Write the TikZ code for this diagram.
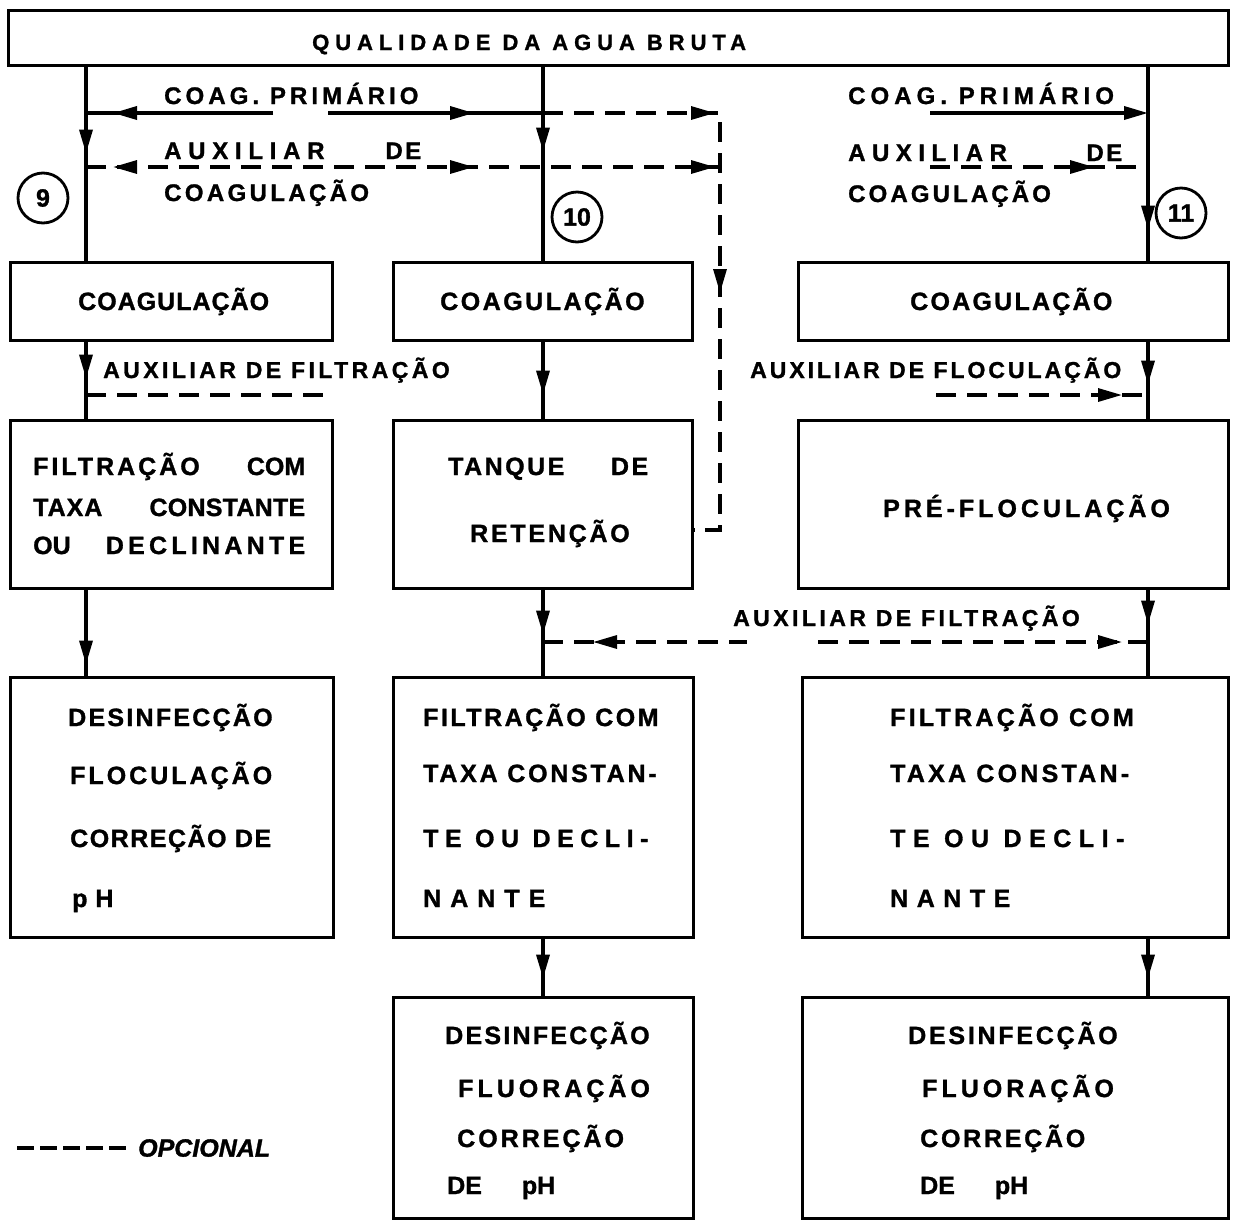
\documentclass[tikz,border=0pt]{standalone}
\usepackage{fontspec}
\setmainfont{Liberation Sans}[BoldFeatures={FakeBold=1.2},BoldItalicFeatures={FakeBold=1.2}]
\usetikzlibrary{arrows.meta,decorations.markings}
\newcommand\LS[2]{{\addfontfeatures{LetterSpace=#1}#2}}
\tikzset{>={Triangle[length=24pt,width=13pt]}}
\begin{document}
\begin{tikzpicture}[x=1pt,y=-1pt,
  box/.style={draw, line width=3pt, inner sep=0pt},
  lab/.style={font=\bfseries\fontsize{25}{25}\selectfont, inner sep=0pt, anchor=base west},
  side/.style={lab, font=\bfseries\fontsize{23}{23}\selectfont},
  toplab/.style={lab, font=\bfseries\fontsize{24}{24}\selectfont},
  conn/.style={line width=3.5pt},
  dsh/.style={line width=3.2pt, dash pattern=on 20pt off 11pt},
  ar/.style={postaction={decorate}, decoration={markings, mark=at position #1 with {\arrow{>}}}},
  arr/.style={postaction={decorate}, decoration={markings, mark=at position #1 with {\arrowreversed{>}}}},
  num/.style={circle, draw, line width=2.8pt, minimum size=50pt, inner sep=0pt, font=\bfseries\fontsize{25}{25}\selectfont}
]
\useasboundingbox (0,0) rectangle (1233,1221);
\fill[white] (0,0) rectangle (1233,1221);
% columns
\path (86,0) coordinate (k1) (543,0) coordinate (k2) (1148,0) coordinate (k3);
% top box
\node[box, minimum width=1220pt, minimum height=55pt] (top) at (618,37.5) {};
\node[lab, font=\bfseries\fontsize{22}{22}\selectfont] (ttl) at (312,50) {\LS{27}{QUALIDADE DA AGUA BRUTA}};
% boxes
\node[box, minimum width=322pt, minimum height=78pt]  (c1) at (171,301) {};
\node[box, minimum width=322pt, minimum height=168pt] (f1) at (171,504) {};
\node[box, minimum width=323pt, minimum height=260pt] (d1) at (171.5,807) {};
\node[box, minimum width=299pt, minimum height=78pt]  (c2) at (542.5,301) {};
\node[box, minimum width=299pt, minimum height=168pt] (t2) at (542.5,504) {};
\node[box, minimum width=300pt, minimum height=260pt] (f2) at (543,807) {};
\node[box, minimum width=300pt, minimum height=221pt] (d2) at (543,1107.5) {};
\node[box, minimum width=430pt, minimum height=78pt]  (c3) at (1013,301) {};
\node[box, minimum width=430pt, minimum height=168pt] (p3) at (1013,504) {};
\node[box, minimum width=426pt, minimum height=260pt] (f3) at (1015,807) {};
\node[box, minimum width=426pt, minimum height=221pt] (d3) at (1015,1107.5) {};
% circled numbers
\node[num] (n9) at (43,198) {9};
\node[num] (n10) at (577,217) {10};
\node[num] (n11) at (1181,213) {11};
% top labels
\node[toplab] (lcp) at (164,104) {\LS{17}{COAG. PRIMÁRIO}};
\node[toplab] (lax) at (164,159) {\makebox[257pt][l]{\LS{28}{AUXILIAR}\hfill\LS{10}{DE}}};
\node[toplab] (lcg) at (164,201) {\LS{14}{COAGULAÇÃO}};
\node[toplab] (rcp) at (848,104) {\LS{21}{COAG. PRIMÁRIO}};
\node[toplab] (rax) at (848,161) {\makebox[274pt][l]{\LS{27}{AUXILIAR}\hfill\LS{10}{DE}}};
\node[toplab] (rcg) at (848,202) {\LS{13}{COAGULAÇÃO}};
% side labels
\node[side] (saf1) at (103,378) {\LS{15}{AUXILIAR DE FILTRAÇÃO}};
\node[side] (safl) at (750,378) {\LS{13}{AUXILIAR DE FLOCULAÇÃO}};
\node[side] (saf3) at (733,626) {\LS{15}{AUXILIAR DE FILTRAÇÃO}};
% left column texts
\node[lab] (c1t) at (78,310) {\LS{4}{COAGULAÇÃO}};
\node[lab] (f1a) at (33,475) {\makebox[272pt][l]{\LS{12}{FILTRAÇÃO}\hfill COM}};
\node[lab] (f1b) at (33,516) {\makebox[272pt][l]{\LS{4}{TAXA}\hfill\LS{1}{CONSTANTE}}};
\node[lab] (f1c) at (33,554) {\makebox[272pt][l]{OU\hfill\LS{17}{DECLINANTE}}};
\node[lab] (d1a) at (68,726) {\LS{9}{DESINFECÇÃO}};
\node[lab] (d1b) at (70,784) {\LS{12}{FLOCULAÇÃO}};
\node[lab] (d1c) at (70,847) {\LS{6}{CORREÇÃO DE}};
\node[lab] (d1d) at (72,907) {\LS{4}{p H}};
% center column texts
\node[lab] (c2t) at (440,310) {\LS{10}{COAGULAÇÃO}};
\node[lab] (t2a) at (448,475) {\makebox[200pt][l]{\LS{10}{TANQUE}\hfill\LS{10}{DE}}};
\node[lab] (t2b) at (470,542) {\LS{11}{RETENÇÃO}};
\node[lab] (f2a) at (423,726) {\LS{10}{FILTRAÇÃO COM}};
\node[lab] (f2b) at (423,782) {\LS{11}{TAXA CONSTAN-}};
\node[lab] (f2c) at (423,847) {\LS{26}{TE OU DECLI-}};
\node[lab] (f2d) at (423,907) {\LS{36}{NANTE}};
\node[lab] (d2a) at (445,1044) {\LS{9}{DESINFECÇÃO}};
\node[lab] (d2b) at (458,1097) {\LS{16}{FLUORAÇÃO}};
\node[lab] (d2c) at (457,1147) {\LS{12}{CORREÇÃO}};
\node[lab] (d2d) at (447,1194) {DE\hspace*{40pt}pH};
% right column texts
\node[lab] (c3t) at (910,310) {\LS{9}{COAGULAÇÃO}};
\node[lab] (p3t) at (883,517) {\LS{16}{PRÉ-FLOCULAÇÃO}};
\node[lab] (f3a) at (890,726) {\LS{13}{FILTRAÇÃO COM}};
\node[lab] (f3b) at (890,782) {\LS{13}{TAXA CONSTAN-}};
\node[lab] (f3c) at (890,847) {\LS{30}{TE OU DECLI-}};
\node[lab] (f3d) at (890,907) {\LS{34}{NANTE}};
\node[lab] (d3a) at (908,1044) {\LS{11}{DESINFECÇÃO}};
\node[lab] (d3b) at (922,1097) {\LS{16}{FLUORAÇÃO}};
\node[lab] (d3c) at (920,1147) {\LS{11}{CORREÇÃO}};
\node[lab] (d3d) at (920,1194) {DE\hspace*{40pt}pH};
% legend
\coordinate (lg1) at (17,1148);
\node[lab, font=\bfseries\itshape\fontsize{25}{25}\selectfont, anchor=west] (lgt) at (138,1148) {OPCIONAL};
\draw[line width=3.2pt, dash pattern=on 17pt off 6pt] (lg1) -- (lgt.west -| 128,0);
% junction coordinates
\coordinate (pa1) at (273,113);
\coordinate (pa2) at (328,113);
\coordinate (pb1) at (86,167);
\coordinate (pc) at (720,113);
\coordinate (pd) at (720,530);
\coordinate (pb2) at (720,167);
\coordinate (pr1) at (930,113);
\coordinate (pr3) at (930,167);
\coordinate (pf1) at (936,395);
\coordinate (pg1) at (818,642);
\coordinate (pg2) at (747,642);
\coordinate (ph1) at (332,395);
% left column connectors
\draw[conn, ar=87pt] (top.south -| k1) -- (c1.north -| k1);
\draw[conn, ar=37pt] (c1.south -| k1) -- (f1.north -| k1);
\draw[conn, ar=75pt] (f1.south -| k1) -- (d1.north -| k1);
\draw[dsh] (k1 |- ph1) -- (ph1);
% top horizontals
\draw[conn, ar=160pt] (pa1) -- (pa1 -| k1);
\draw[conn, ar=146pt] (pa2) -- (pa2 -| k2);
\draw[dsh, postaction={decorate}, decoration={markings,
   mark=at position 172pt with {\arrow{>}},
   mark=at position 357pt with {\arrow{>}}}]
   (pa2 -| k2) -- (pc) -- (pd) -- (pd -| t2.east);
\draw[dsh, postaction={decorate}, decoration={markings,
   mark=at position 27pt with {\arrowreversed{>}},
   mark=at position 388pt with {\arrow{>}},
   mark=at position 629pt with {\arrow{>}}}]
   (pb1) -- (pb2);
% center column connectors
\draw[conn, ar=85pt] (top.south -| k2) -- (c2.north -| k2);
\draw[conn, ar=53pt] (c2.south -| k2) -- (t2.north -| k2);
\draw[conn, ar=45pt] (t2.south -| k2) -- (f2.north -| k2);
\draw[conn, ar=40pt] (f2.south -| k2) -- (d2.north -| k2);
\draw[dsh, arr=50pt] (pg2 -| k2) -- (pg2);
% right column connectors
\draw[conn, ar=163pt] (top.south -| k3) -- (c3.north -| k3);
\draw[conn, -{Triangle[length=24pt,width=13pt]}] (pr1) -- (pr1 -| k3);
\draw[dsh, ar=164pt] (pr3) -- (pr3 -| k3);
\draw[conn, ar=43pt] (c3.south -| k3) -- (p3.north -| k3);
\draw[dsh, ar=186pt] (pf1) -- (pf1 -| k3);
\draw[conn, ar=35pt] (p3.south -| k3) -- (f3.north -| k3);
\draw[dsh, ar=304pt] (pg1) -- (pg1 -| k3);
\draw[conn, ar=40pt] (f3.south -| k3) -- (d3.north -| k3);
\end{tikzpicture}
\end{document}
